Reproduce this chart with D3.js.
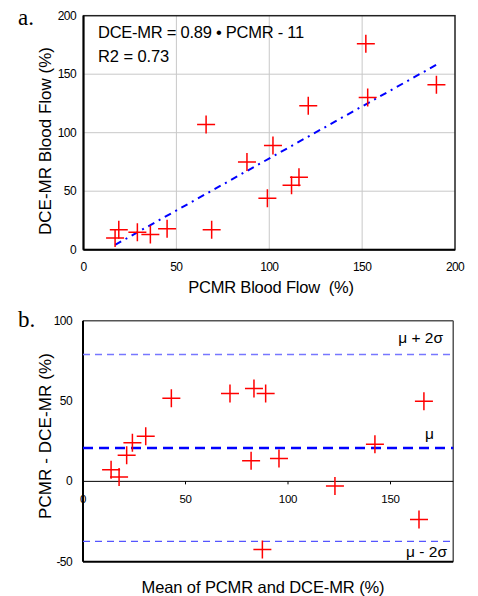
<!DOCTYPE html>
<html>
<head>
<meta charset="utf-8">
<script src="https://cdn.jsdelivr.net/npm/d3@7"></script>
<style>
  body { margin: 0; background: #fff; }
  text { font-family: "Liberation Sans", Arial, sans-serif; fill: #000; }
  text.panel { font-family: "Liberation Serif", "Times New Roman", serif; }
</style>
</head>
<body>
<div id="chart"></div>
<script>
// panel a: PCMR vs DCE-MR blood flow (%)
var pcmrFlow = [152, 190, 153, 121, 66, 102, 88, 116, 112, 99, 69, 45, 36, 29, 19, 17];
var dceFlow = [176, 141, 130, 123, 107, 89, 75, 62, 55, 44, 17, 18, 13, 15, 17, 10];
var fitSlope = 0.89;
var fitIntercept = -11;
var fitRange = [17, 191];
var ticksA = [0, 50, 100, 150, 200];

// panel b: Bland-Altman
var meanFlow = [13.7, 17.6, 21.3, 24.1, 30.6, 43.1, 71.7, 83.4, 89.1, 82, 95.6, 122.9, 142.4, 166.3, 163.9, 87.5];
var diffFlow = [7.3, 2.7, 16.2, 24.1, 28.1, 51.8, 54.7, 57.8, 54.7, 12.9, 14.2, -2.9, 23.1, 49.9, -23.7, -42.4];
var biasMean = 20.8;
var biasSd = 29.1;
var ticksBx = [0, 50, 100, 150];
var ticksBy = [-50, 0, 50, 100];

var svg = d3.select("#chart").append("svg")
  .attr("width", 478)
  .attr("height", 596);

var crossPath = "M-9,0H9M0,-9V9";

// ---------- panel a ----------
var xA = d3.scaleLinear().domain([0, 200]).range([83.5, 455]);
var yA = d3.scaleLinear().domain([0, 200]).range([249.7, 15.7]);

var gA = svg.append("g");

// grid
gA.selectAll(".gx").data([50, 100, 150]).enter().append("line")
  .attr("x1", d => xA(d)).attr("x2", d => xA(d))
  .attr("y1", yA(200)).attr("y2", yA(0))
  .attr("stroke", "#c8c8c8").attr("stroke-width", 1);
gA.selectAll(".gy").data([50, 100, 150]).enter().append("line")
  .attr("x1", xA(0)).attr("x2", xA(200))
  .attr("y1", d => yA(d)).attr("y2", d => yA(d))
  .attr("stroke", "#c8c8c8").attr("stroke-width", 1);

// frame
gA.append("rect")
  .attr("x", xA(0)).attr("y", yA(200))
  .attr("width", xA(200) - xA(0)).attr("height", yA(0) - yA(200))
  .attr("fill", "none").attr("stroke", "#222").attr("stroke-width", 1.5);
gA.append("line").attr("x1", xA(0)).attr("x2", xA(0)).attr("y1", yA(200)).attr("y2", yA(0))
  .attr("stroke", "#000").attr("stroke-width", 2);
gA.append("line").attr("x1", xA(0)).attr("x2", xA(200)).attr("y1", yA(0)).attr("y2", yA(0))
  .attr("stroke", "#000").attr("stroke-width", 2);

// tick labels
gA.selectAll(".tx").data(ticksA).enter().append("text")
  .attr("x", d => xA(d)).attr("y", 271)
  .attr("text-anchor", "middle").attr("font-size", 12).attr("letter-spacing", -0.6)
  .text(d => d);
gA.selectAll(".ty").data(ticksA).enter().append("text")
  .attr("x", 76).attr("y", d => yA(d) + 4)
  .attr("text-anchor", "end").attr("font-size", 12).attr("letter-spacing", -0.6)
  .text(d => d);

// fit line
gA.append("line")
  .attr("x1", xA(fitRange[0])).attr("y1", yA(fitSlope * fitRange[0] + fitIntercept))
  .attr("x2", xA(fitRange[1])).attr("y2", yA(fitSlope * fitRange[1] + fitIntercept))
  .attr("stroke", "#0000ff").attr("stroke-width", 2)
  .attr("stroke-dasharray", "7,5,2,5");

// points
gA.selectAll(".pt").data(pcmrFlow).enter().append("path")
  .attr("d", crossPath)
  .attr("transform", (d, i) => `translate(${xA(d)},${yA(dceFlow[i])})`)
  .attr("stroke", "#ff0000").attr("stroke-width", 1.5).attr("fill", "none");

// annotation
gA.append("text").attr("x", 98).attr("y", 37.5)
  .attr("font-size", 16.5).attr("letter-spacing", -0.25)
  .text("DCE-MR = 0.89 \u2022 PCMR - 11");
gA.append("text").attr("x", 98).attr("y", 61.5)
  .attr("font-size", 16.5).attr("letter-spacing", -0.1)
  .text("R2 = 0.73");

// titles
gA.append("text")
  .attr("x", 271).attr("y", 293)
  .attr("text-anchor", "middle").attr("font-size", 16.5).attr("letter-spacing", -0.2)
  .attr("xml:space", "preserve")
  .text("PCMR Blood Flow  (%)");
gA.append("text")
  .attr("transform", "translate(51,141) rotate(-90)")
  .attr("text-anchor", "middle").attr("font-size", 17)
  .text("DCE-MR Blood Flow (%)");
gA.append("text").attr("class", "panel").attr("x", 18).attr("y", 25)
  .attr("font-size", 23).text("a.");

// ---------- panel b ----------
var xB = d3.scaleLinear().domain([0, 180]).range([83, 452]);
var yB = d3.scaleLinear().domain([-50, 100]).range([561.7, 320.7]);

var gB = svg.append("g");

// frame
gB.append("line").attr("x1", xB(0)).attr("x2", xB(180.6)).attr("y1", yB(100)).attr("y2", yB(100))
  .attr("stroke", "#555").attr("stroke-width", 1.5);
gB.append("line").attr("x1", xB(180.6)).attr("x2", xB(180.6)).attr("y1", yB(100)).attr("y2", yB(-50))
  .attr("stroke", "#555").attr("stroke-width", 1.5);
gB.append("line").attr("x1", xB(0)).attr("x2", xB(180.6)).attr("y1", yB(-50)).attr("y2", yB(-50))
  .attr("stroke", "#000").attr("stroke-width", 2);
gB.append("line").attr("x1", xB(0)).attr("x2", xB(0)).attr("y1", yB(100)).attr("y2", yB(-50))
  .attr("stroke", "#000").attr("stroke-width", 2);
gB.append("line").attr("x1", xB(0)).attr("x2", xB(180.6)).attr("y1", yB(0)).attr("y2", yB(0))
  .attr("stroke", "#000").attr("stroke-width", 1);

// x ticks on zero line
gB.selectAll(".tk").data(ticksBx.slice(1)).enter().append("line")
  .attr("x1", d => xB(d)).attr("x2", d => xB(d))
  .attr("y1", yB(0)).attr("y2", yB(0) + 3)
  .attr("stroke", "#000").attr("stroke-width", 1);
gB.selectAll(".tx").data(ticksBx).enter().append("text")
  .attr("x", d => xB(d)).attr("y", 503)
  .attr("text-anchor", "middle").attr("font-size", 11.5).attr("letter-spacing", -0.3)
  .text(d => d);
gB.selectAll(".ty").data(ticksBy).enter().append("text")
  .attr("x", 72).attr("y", d => yB(d) + 4)
  .attr("text-anchor", "end").attr("font-size", 12).attr("letter-spacing", -0.6)
  .text(d => d);

// bias and limits
var limits = [
  { v: biasMean + 2 * biasSd, color: "#7777ff", w: 1.5, dash: "7,5" },
  { v: biasMean, color: "#0000ff", w: 2.5, dash: "10,6" },
  { v: biasMean - 2 * biasSd, color: "#5555ff", w: 1.3, dash: "7,5" }
];
gB.selectAll(".lim").data(limits).enter().append("line")
  .attr("x1", xB(0)).attr("x2", xB(180.6))
  .attr("y1", d => yB(d.v)).attr("y2", d => yB(d.v))
  .attr("stroke", d => d.color).attr("stroke-width", d => d.w)
  .attr("stroke-dasharray", d => d.dash);

gB.append("text").attr("x", 443).attr("y", 343)
  .attr("text-anchor", "end").attr("font-size", 15.5).text("\u03bc + 2\u03c3");
gB.append("text").attr("x", 434).attr("y", 439)
  .attr("text-anchor", "end").attr("font-size", 15.5).text("\u03bc");
gB.append("text").attr("x", 447).attr("y", 557)
  .attr("text-anchor", "end").attr("font-size", 15.5).text("\u03bc - 2\u03c3");

// points
gB.selectAll(".pt").data(meanFlow).enter().append("path")
  .attr("d", crossPath)
  .attr("transform", (d, i) => `translate(${xB(d)},${yB(diffFlow[i])})`)
  .attr("stroke", "#ff0000").attr("stroke-width", 1.5).attr("fill", "none");

// titles
gB.append("text")
  .attr("x", 263).attr("y", 593)
  .attr("text-anchor", "middle").attr("font-size", 16.5).attr("letter-spacing", -0.1)
  .text("Mean of PCMR and DCE-MR (%)");
gB.append("text")
  .attr("transform", "translate(51,436) rotate(-90)")
  .attr("text-anchor", "middle").attr("font-size", 17).attr("letter-spacing", 0.1)
  .text("PCMR - DCE-MR (%)");
gB.append("text").attr("class", "panel").attr("x", 18).attr("y", 327)
  .attr("font-size", 23).text("b.");
</script>
</body>
</html>
